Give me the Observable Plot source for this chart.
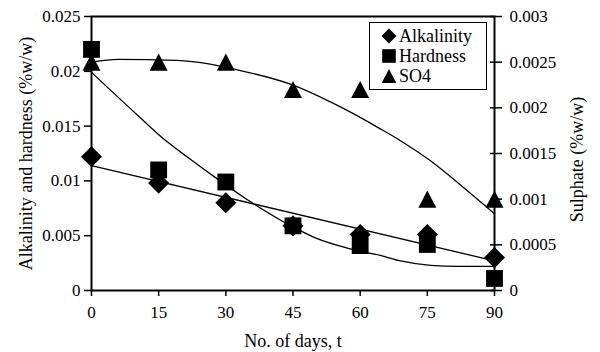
<!DOCTYPE html>
<html>
<head>
<meta charset="utf-8">
<script src="https://cdn.jsdelivr.net/npm/d3@7"></script>
<script src="https://cdn.jsdelivr.net/npm/@observablehq/plot@0.6"></script>
<style>
  html, body { margin: 0; padding: 0; background: #fff; }
  #wrap { position: relative; width: 600px; height: 352px; font-family: "Liberation Serif", "Times New Roman", Tinos, Times, "DejaVu Serif", serif; }
  #legend { position: absolute; left: 369px; top: 22px; width: 118px; height: 68px; border: 1.3px solid #000; background: #fff; box-sizing: border-box; padding-top: 3px; }
  #legend .row { display: flex; align-items: center; height: 20px; font-size: 18px; line-height: 20px; color: #000; }
  #legend svg { width: 20px; height: 20px; flex: none; margin-left: 9px; margin-right: 0px; }
</style>
</head>
<body>
<div id="wrap"><div id="legend"></div></div>
<script>
// ---- data ----
const days = [0, 15, 30, 45, 60, 75, 90];
const alkalinity = [0.0122, 0.0098, 0.0080, 0.0059, 0.0051, 0.0051, 0.0030];
const hardness   = [0.0220, 0.0110, 0.0099, 0.0059, 0.0041, 0.0042, 0.0011];
const sulphate   = [0.0025, 0.0025, 0.0025, 0.0022, 0.0022, 0.0010, 0.0010];

// fitted curves
const alkFitDays = [0, 90];
const alkFit     = [0.0114, 0.0027];
const hardFitDays = [0, 10, 16.5, 22, 27.7, 34.4, 45, 50, 57.8, 64.5, 69, 75.7, 82, 90];
const hardFit     = [0.0199, 0.0161, 0.0137, 0.0120, 0.0103, 0.0084, 0.0058, 0.0048, 0.0038, 0.0032, 0.0027, 0.0023, 0.0022, 0.0022];
const sulFitDays = [0, 6, 19, 34, 44.4, 55.6, 64.5, 69, 75.7, 83, 90];
const sulFit     = [0.00250, 0.00253, 0.00252, 0.00240, 0.00226, 0.00201, 0.00177, 0.00164, 0.00142, 0.00113, 0.00084];

const xTicks = [0, 15, 30, 45, 60, 75, 90];
const leftTicks = [0, 0.005, 0.01, 0.015, 0.02, 0.025];
const leftTickLabels = ["0", "0.005", "0.01", "0.015", "0.02", "0.025"];
const rightTicks = [0, 0.0005, 0.001, 0.0015, 0.002, 0.0025, 0.003];
const rightTickLabels = ["0", "0.0005", "0.001", "0.0015", "0.002", "0.0025", "0.003"];
const seriesNames = ["Alkalinity", "Hardness", "SO4"];
const xTitle = "No. of days, t";
const yLeftTitle = "Alkalinity and hardness (%w/w)";
const yRightTitle = "Sulphate (%w/w)";

// ---- build ----
const k = leftTicks[leftTicks.length - 1] / rightTicks[rightTicks.length - 1]; // right->left scale factor
const FONT = "'Liberation Serif', 'Times New Roman', Tinos, Times, 'DejaVu Serif', serif";

// tall triangle symbol
const tallTriangle = {
  draw(ctx, size) {
    const r = Math.sqrt(size / Math.PI);
    const w = r, h = 0.95 * r;
    ctx.moveTo(0, -h);
    ctx.lineTo(w, h);
    ctx.lineTo(-w, h);
    ctx.closePath();
  }
};
const diamond = d3.symbolDiamond2 || d3.symbolDiamond;

const pts = days.map((d, i) => ({d, alk: alkalinity[i], hard: hardness[i], sul: sulphate[i] * k}));
const alkLine = alkFitDays.map((d, i) => ({d, v: alkFit[i]}));
const hardLine = hardFitDays.map((d, i) => ({d, v: hardFit[i]}));
const sulLine = sulFitDays.map((d, i) => ({d, v: sulFit[i] * k}));

const fmtLeft = v => leftTickLabels[leftTicks.findIndex(t => Math.abs(t - v) < 1e-9)];
const fmtRight = v => rightTickLabels[rightTicks.findIndex(t => Math.abs(t * k - v) < 1e-9)];

const chart = Plot.plot({
  width: 600,
  height: 352,
  marginLeft: 91,
  marginRight: 106,
  marginTop: 16,
  marginBottom: 62,
  style: {fontFamily: FONT, fontSize: "17px", color: "#000", background: "transparent", overflow: "visible"},
  x: {domain: [0, 90]},
  y: {domain: [0, 0.025]},
  marks: [
    Plot.line(alkLine, {x: "d", y: "v", stroke: "#000", strokeWidth: 1.3}),
    Plot.line(hardLine, {x: "d", y: "v", stroke: "#000", strokeWidth: 1.3, curve: "monotone-x"}),
    Plot.line(sulLine, {x: "d", y: "v", stroke: "#000", strokeWidth: 1.3, curve: "monotone-x"}),
    Plot.dot(pts, {x: "d", y: "sul", symbol: tallTriangle, r: 9, fill: "#000", stroke: "none"}),
    Plot.dot(pts, {x: "d", y: "hard", symbol: "square", r: 9.5, fill: "#000", stroke: "none"}),
    Plot.dot(pts, {x: "d", y: "alk", symbol: diamond, r: 9.5, fill: "#000", stroke: "none"}),
    Plot.frame({stroke: "#000", strokeWidth: 2}),
    Plot.axisX(xTicks, {anchor: "bottom", tickSize: 6, tickPadding: 9, strokeWidth: 1.5, label: null, tickFormat: d => String(d)}),
    Plot.axisY(leftTicks, {anchor: "left", tickSize: 7, tickPadding: 4, strokeWidth: 1.5, label: null, tickFormat: fmtLeft}),
    Plot.axisY(rightTicks.map(t => t * k), {anchor: "right", tickSize: 12, dx: -5, strokeWidth: 1.5, label: null, tickFormat: () => ""}),
    Plot.axisY(rightTicks.map(t => t * k), {anchor: "right", tickSize: 0, tickPadding: 15, label: null, tickFormat: fmtRight}),
    Plot.text([xTitle], {frameAnchor: "bottom", textAnchor: "middle", dy: 51, text: d => d, lineAnchor: "middle", fontSize: 18}),
    Plot.text([yLeftTitle], {frameAnchor: "left", textAnchor: "middle", dx: -65, rotate: -90, text: d => d, lineAnchor: "middle", fontSize: 18}),
    Plot.text([yRightTitle], {frameAnchor: "right", textAnchor: "middle", dx: 83, dy: 6, rotate: -90, text: d => d, lineAnchor: "middle", fontSize: 18})
  ]
});
const wrap = document.getElementById("wrap");
wrap.insertBefore(chart, wrap.firstChild);
chart.style.position = "absolute";
chart.style.left = "0";
chart.style.top = "0";

// legend
const legend = d3.select("#legend");
const legendSymbols = [
  d3.symbol(diamond, 143),
  d3.symbol(d3.symbolSquare, 185),
  d3.symbol(tallTriangle, 170)
];
seriesNames.forEach((name, i) => {
  const row = legend.append("div").attr("class", "row");
  const s = row.append("svg").attr("viewBox", "-10 -10 20 20");
  s.append("path").attr("d", legendSymbols[i]()).attr("fill", "#000");
  row.append("span").text(name);
});
</script>
</body>
</html>
